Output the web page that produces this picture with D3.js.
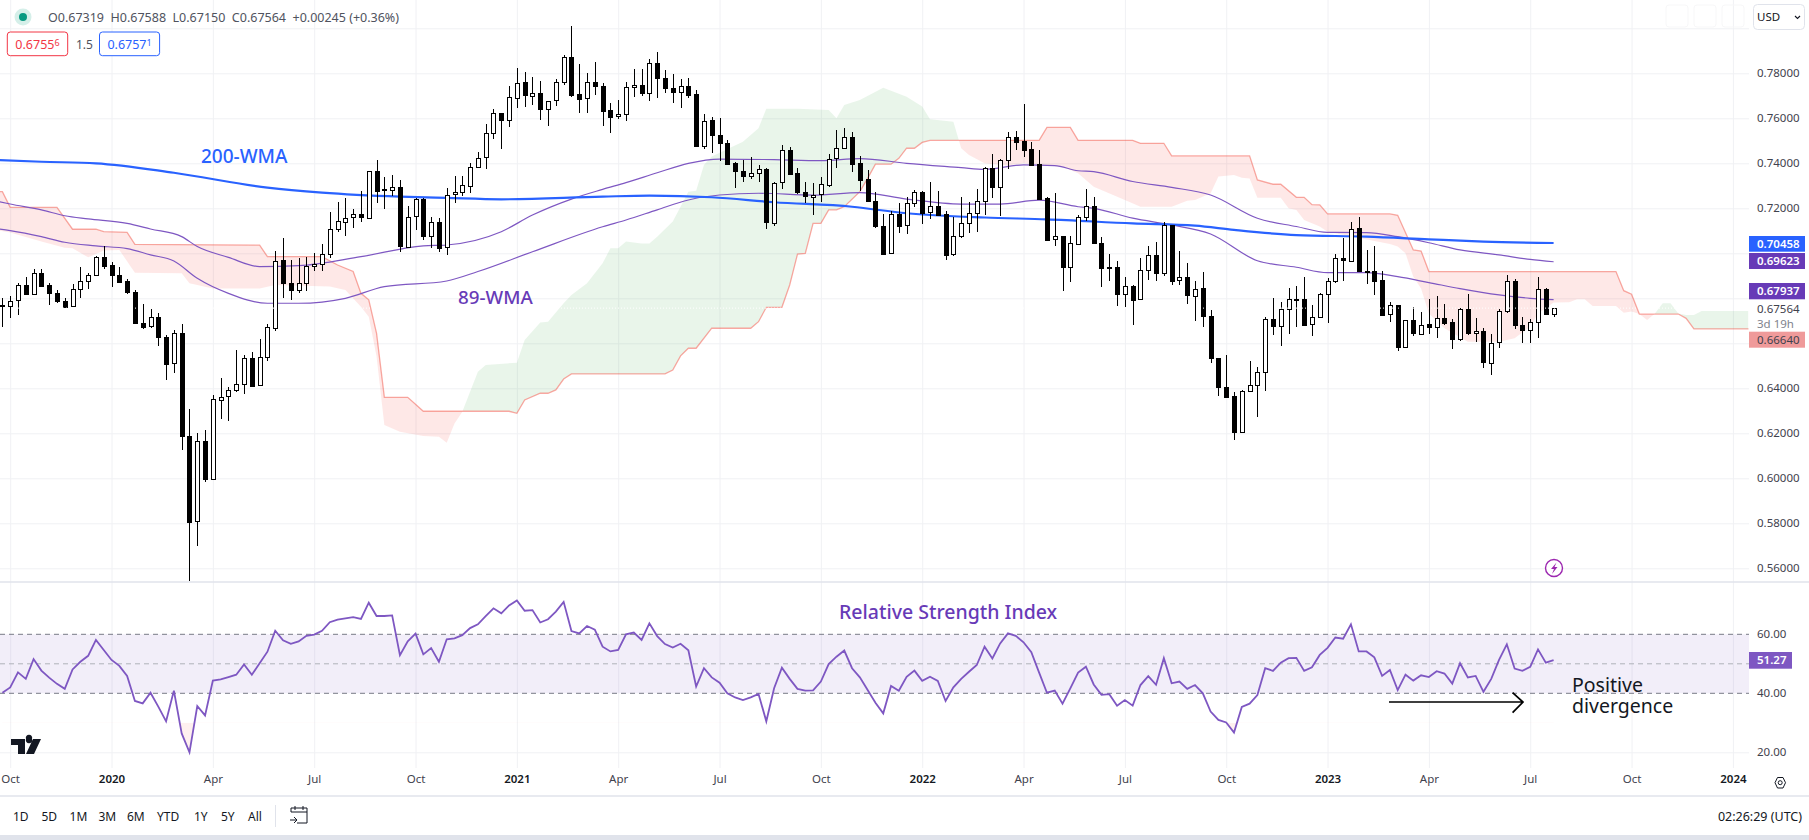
<!DOCTYPE html>
<html>
<head>
<meta charset="utf-8">
<script src="https://cdn.jsdelivr.net/npm/d3@7"></script>
<style>
  html, body { margin: 0; padding: 0; background: #fff; overflow: hidden; }
  text { font-family: "Noto Sans", sans-serif; }
</style>
</head>
<body>
<div id="my_dataviz"></div>
<script>
// weekly candles, one row = 10 weeks, starting the week of 30 Sep 2019
var opens = [
  .6767,.6769,.6793,.6859,.6820,.6914,.6858,.6823,.6789,.6763,
  .6840,.6875,.6903,.6983,.6947,.6903,.6876,.6826,.6690,.6674,
  .6716,.6628,.6509,.6644,.6188,.5807,.6164,.5996,.6351,.6363,
  .6391,.6417,.6533,.6413,.6537,.6671,.6969,.6867,.6834,.6867,
  .6941,.6951,.6996,.7107,.7142,.7158,.7173,.7157,.7365,.7284,
  .7281,.7293,.7030,.7163,.7241,.7077,.7138,.7027,.7260,.7271,
  .7302,.7385,.7425,.7533,.7622,.7589,.7693,.7760,.7701,.7714,
  .7643,.7678,.7760,.7871,.7707,.7687,.7760,.7744,.7636,.7607,
  .7616,.7738,.7747,.7711,.7844,.7778,.7733,.7714,.7742,.7707,
  .7478,.7591,.7524,.7489,.7400,.7364,.7342,.7356,.7373,.7136,
  .7314,.7458,.7356,.7271,.7252,.7261,.7307,.7421,.7467,.7517,
  .7400,.7329,.7232,.7122,.6999,.7175,.7123,.7222,.7273,.7181,
  .7210,.7173,.6993,.7074,.7133,.7178,.7230,.7378,.7292,.7413,
  .7517,.7499,.7462,.7396,.7244,.7062,.7075,.6936,.7041,.7158,
  .7209,.7044,.6938,.6938,.6817,.6855,.6794,.6925,.6991,.6910,
  .7126,.6878,.6893,.6812,.6844,.6720,.6533,.6404,.6364,.6203,
  .6387,.6413,.6470,.6707,.6674,.6751,.6797,.6796,.6683,.6716,
  .6818,.6875,.6978,.6968,.7111,.6921,.6921,.6881,.6727,.6769,
  .6581,.6702,.6643,.6684,.6670,.6711,.6693,.6616,.6751,.6643,
  .6653,.6514,.6603,.6741,.6876,.6680,.6656,.6693,.6840,.67319];
var highs = [
  .6800,.6810,.6867,.6896,.6929,.6929,.6867,.6837,.6800,.6864,
  .6938,.6911,.6988,.7033,.6962,.6941,.6887,.6837,.6775,.6753,
  .6734,.6637,.6659,.6685,.6308,.6200,.6215,.6370,.6444,.6404,
  .6570,.6548,.6563,.6618,.6685,.7012,.7067,.6970,.6977,.6985,
  .7000,.7040,.7183,.7230,.7244,.7195,.7277,.7367,.7415,.7341,
  .7348,.7326,.7210,.7244,.7244,.7160,.7156,.7289,.7343,.7343,
  .7400,.7449,.7575,.7640,.7625,.7744,.7822,.7804,.7782,.7766,
  .7678,.7773,.7881,.8010,.7840,.7800,.7849,.7756,.7667,.7681,
  .7760,.7818,.7818,.7862,.7893,.7815,.7797,.7773,.7778,.7726,
  .7619,.7604,.7601,.7504,.7404,.7415,.7427,.7393,.7378,.7317,
  .7481,.7474,.7378,.7316,.7311,.7338,.7441,.7548,.7556,.7539,
  .7433,.7370,.7274,.7175,.7190,.7222,.7252,.7281,.7277,.7316,
  .7277,.7188,.7163,.7252,.7228,.7286,.7382,.7441,.7418,.7539,
  .7544,.7664,.7493,.7459,.7249,.7267,.7075,.7075,.7169,.7284,
  .7249,.7071,.6997,.6966,.6895,.6859,.6977,.7033,.7051,.7139,
  .7126,.7009,.6956,.6877,.6918,.6748,.6536,.6548,.6382,.6393,
  .6522,.6493,.6718,.6801,.6785,.6844,.6855,.6893,.6770,.6822,
  .6889,.6997,.7067,.7141,.7160,.7015,.7033,.6921,.6785,.6772,
  .6704,.6760,.6741,.6797,.6810,.6775,.6707,.6755,.6818,.6711,
  .6666,.6640,.6753,.6903,.6885,.6718,.6708,.6893,.6847,.67588];
var lows = [
  .6674,.6714,.6726,.6815,.6817,.6849,.6770,.6778,.6759,.6763,
  .6800,.6843,.6897,.6932,.6852,.6870,.6820,.6685,.6663,.6669,
  .6589,.6437,.6467,.6126,.5545,.5701,.5985,.5996,.6264,.6256,
  .6385,.6375,.6407,.6413,.6522,.6656,.6803,.6793,.6823,.6834,
  .6923,.6923,.6977,.7093,.7077,.7114,.7141,.7151,.7225,.7195,
  .7255,.7007,.7027,.7104,.7059,.7025,.7007,.6992,.7225,.7255,
  .7270,.7378,.7375,.7508,.7464,.7563,.7647,.7652,.7659,.7593,
  .7566,.7655,.7748,.7696,.7625,.7625,.7704,.7566,.7536,.7596,
  .7589,.7696,.7699,.7678,.7692,.7714,.7670,.7647,.7689,.7477,
  .7465,.7447,.7412,.7393,.7292,.7318,.7332,.7318,.7110,.7123,
  .7287,.7348,.7264,.7225,.7172,.7228,.7296,.7381,.7465,.7363,
  .7278,.7228,.7114,.6999,.6999,.7092,.7086,.7207,.7130,.7154,
  .7166,.6970,.6990,.7068,.7092,.7096,.7170,.7246,.7166,.7376,
  .7459,.7430,.7391,.7237,.7055,.7033,.6834,.6873,.7037,.7144,
  .7041,.6852,.6875,.6767,.6763,.6683,.6793,.6882,.6875,.6899,
  .6859,.6859,.6775,.6701,.6674,.6514,.6366,.6358,.6170,.6203,
  .6385,.6274,.6390,.6637,.6589,.6641,.6674,.6677,.6632,.6713,
  .6692,.6867,.6875,.6968,.6915,.6862,.6815,.6724,.6696,.6567,
  .6581,.6634,.6637,.6641,.6622,.6681,.6574,.6611,.6638,.6607,
  .6492,.6461,.6581,.6736,.6665,.6600,.6603,.6625,.6728,.67150];
var closes = [
  .6771,.6790,.6858,.6820,.6914,.6855,.6823,.6786,.6763,.6840,
  .6875,.6903,.6983,.6945,.6901,.6873,.6826,.6688,.6674,.6716,
  .6625,.6509,.6644,.6185,.5807,.6164,.5993,.6351,.6363,.6391,
  .6417,.6533,.6410,.6537,.6671,.6968,.6865,.6834,.6867,.6944,
  .6951,.6996,.7107,.7142,.7158,.7173,.7160,.7364,.7278,.7278,
  .7293,.7030,.7163,.7240,.7077,.7138,.7022,.7260,.7271,.7302,
  .7385,.7425,.7533,.7622,.7589,.7693,.7759,.7701,.7714,.7643,
  .7678,.7760,.7871,.7704,.7687,.7760,.7741,.7634,.7607,.7618,
  .7738,.7747,.7710,.7844,.7776,.7732,.7714,.7742,.7704,.7478,
  .7589,.7523,.7487,.7397,.7363,.7341,.7356,.7373,.7136,.7314,
  .7458,.7353,.7270,.7252,.7261,.7307,.7421,.7467,.7516,.7398,
  .7326,.7230,.7119,.6999,.7173,.7122,.7222,.7271,.7178,.7209,
  .7170,.6993,.7075,.7133,.7178,.7231,.7378,.7292,.7413,.7516,
  .7496,.7461,.7393,.7241,.7059,.7075,.6936,.7044,.7160,.7209,
  .7043,.6932,.6932,.6817,.6853,.6794,.6925,.6991,.6910,.7124,
  .6878,.6893,.6812,.6843,.6718,.6532,.6403,.6361,.6203,.6387,
  .6413,.6471,.6707,.6674,.6751,.6796,.6794,.6682,.6716,.6818,
  .6876,.6978,.6968,.7110,.6918,.6918,.6878,.6727,.6769,.6581,
  .6702,.6643,.6683,.6670,.6711,.6690,.6616,.6751,.6643,.6653,
  .6514,.6603,.6742,.6875,.6679,.6656,.6693,.6840,.6731,.67564];

// RSI, one value per week
var rsiValues = [
  40.2,42.0,47.1,44.9,51.6,47.7,45.3,43.2,41.5,48.1,
  50.7,52.7,58.1,54.7,51.3,49.3,45.9,37.4,36.6,40.2,
  35.5,30.5,40.9,26.4,20.0,35.7,32.5,44.3,44.7,45.5,
  46.3,49.8,46.3,50.2,54.1,61.2,58.0,56.8,57.6,59.5,
  59.9,61.2,64.1,65.0,65.4,65.8,65.2,70.7,66.2,66.2,
  66.4,52.9,57.6,60.2,53.2,55.3,50.7,58.3,58.6,59.7,
  62.1,63.4,66.2,68.8,67.1,69.8,71.5,68.0,68.2,64.0,
  65.1,67.7,71.0,61.1,60.3,62.8,61.6,55.8,54.2,54.7,
  60.0,60.6,58.1,63.7,59.4,56.7,55.5,56.8,54.6,42.3,
  48.5,45.4,43.6,40.0,38.6,37.7,38.6,39.8,30.5,41.7,
  48.7,44.9,41.5,40.9,41.0,44.0,49.9,52.4,54.5,48.5,
  45.4,41.1,36.8,33.2,42.5,40.9,45.6,47.7,44.2,45.6,
  44.2,37.4,42.0,44.9,47.3,49.6,55.8,51.8,56.9,60.3,
  59.5,57.3,53.9,47.0,40.2,40.9,36.5,41.7,47.0,49.0,
  43.0,39.5,39.7,35.8,37.7,35.8,42.8,45.8,42.9,51.9,
  43.4,44.0,41.5,42.8,40.0,33.8,31.0,30.1,26.7,35.4,
  36.5,39.4,48.5,47.6,50.4,51.9,52.0,47.6,48.8,53.0,
  55.4,58.9,58.5,63.4,54.2,54.2,52.2,45.9,47.9,41.1,
  46.3,44.3,46.1,45.5,47.5,46.7,43.3,50.2,45.4,45.9,
  40.5,44.9,51.3,56.6,48.4,47.6,49.0,54.9,50.4,51.27];

// moving averages, week index and value
var wma200Weeks = [-1,5,12,22,34,41,51,57,64,77,83,91,99,109,116,126,134,145,153,158,166,175,183,190,199];
var wma200 = [.7415,.7407,.7400,.7358,.7292,.7270,.7252,.7246,.7240,.7252,.7256,.7249,.7227,.7207,.7178,.7159,.7151,.7133,.7123,.7104,.7081,.7074,.7062,.7052,.70458];

var upperWmaWeeks = [-1,1,5,8,11,16,19,23,25,29,33,38,46,54,57,64,68,73,77,80,84,88,92,99,105,110,116,123,126,131,135,138,140,145,150,155,161,166,170,175,179,183,187,192,196,199];
var upperWma = [.7234,.7219,.7193,.7167,.7153,.7133,.7108,.7074,.7030,.6982,.6941,.6945,.6985,.7033,.7037,.7096,.7170,.7241,.7284,.7314,.7358,.7400,.7419,.7416,.7412,.7421,.7400,.7381,.7373,.7393,.7390,.7367,.7363,.7319,.7293,.7259,.7156,.7119,.7093,.7092,.7074,.7047,.7015,.6993,.6973,.69623];

var lowerWmaWeeks = [-1,1,5,8,12,16,19,22,25,29,34,38,44,49,57,61,68,77,80,84,88,92,97,104,110,116,123,128,133,138,140,145,150,155,161,166,170,175,179,183,187,192,196,199];
var lowerWma = [.7111,.7101,.7074,.7049,.7033,.7021,.6993,.6966,.6889,.6822,.6778,.6778,.6800,.6852,.6877,.6919,.7007,.7118,.7148,.7193,.7237,.7259,.7267,.7259,.7270,.7241,.7219,.7219,.7236,.7207,.7200,.7156,.7126,.7086,.6967,.6938,.6914,.6914,.6896,.6870,.6843,.6815,.6800,.67937];

// ichimoku cloud edges
var spanBWeeks = [-1,0,1,7,9,12,13,16,17,33,34,41,43,45,46,47,48,49,52,54,65,66,67,69,70,71,72,73,85,86,87,88,89,91,96,97,98,100,101,102,103,104,105,106,107,108,110,111,112,114,115,116,117,118,119,133,134,137,138,145,146,149,150,160,161,163,164,166,167,168,169,170,178,179,181,182,183,207,208,209,210,215,216,217,224];
var spanB = [.7274,.7274,.7204,.7204,.7107,.7107,.7096,.7093,.7040,.7036,.6985,.6985,.6948,.6919,.6822,.6793,.6644,.6360,.6360,.6298,.6298,.6289,.6348,.6378,.6378,.6393,.6441,.6464,.6464,.6481,.6544,.6578,.6578,.6667,.6667,.6696,.6760,.6760,.6859,.6996,.7000,.7133,.7133,.7193,.7193,.7207,.7274,.7333,.7396,.7396,.7422,.7467,.7467,.7493,.7502,.7502,.7560,.7560,.7502,.7502,.7489,.7489,.7433,.7433,.7326,.7307,.7307,.7249,.7249,.7216,.7215,.7175,.7175,.7169,.7015,.7010,.6919,.6919,.6834,.6818,.6730,.6730,.6711,.6664,.6664];

var spanAWeeks = [-1,1,5,8,9,11,13,15,17,23,24,27,33,35,42,44,46,47,48,49,51,54,56,57,58,59,61,62,66,67,69,70,72,73,75,77,78,79,80,82,83,84,86,87,88,89,90,91,95,97,98,102,106,107,108,110,113,116,118,119,122,123,124,126,129,131,133,136,138,140,144,146,150,152,153,155,156,158,159,160,161,164,165,166,167,169,170,178,179,180,181,182,183,185,188,192,194,196,197,199,201,202,203,204,207,208,209,210,211,212,213,214,215,216,217,218,224];
var spanA = [.7104,.7092,.7052,.7025,.7022,.6982,.7012,.7015,.6914,.6911,.6867,.6844,.6844,.6859,.6852,.6837,.6763,.6718,.6541,.6237,.6207,.6188,.6185,.6158,.6244,.6296,.6474,.6504,.6514,.6615,.6693,.6696,.6778,.6815,.6867,.6956,.7022,.7022,.7052,.7044,.7044,.7074,.7141,.7207,.7274,.7278,.7393,.7430,.7496,.7556,.7643,.7643,.7637,.7600,.7659,.7681,.7736,.7696,.7652,.7596,.7585,.7467,.7437,.7400,.7390,.7400,.7393,.7385,.7356,.7296,.7237,.7207,.7207,.7234,.7237,.7267,.7341,.7348,.7336,.7333,.7247,.7247,.7200,.7193,.7148,.7119,.7096,.7041,.7030,.7000,.6896,.6844,.6733,.6667,.6607,.6607,.6622,.6674,.6733,.6781,.6782,.6796,.6796,.6766,.6766,.6736,.6741,.6730,.6704,.6733,.6778,.6778,.6733,.6726,.6726,.6744,.6744];

// axis ticks
var timeTicks = [1,14,27,40,53,66,79,92,105,118,131,144,157,170,183,196,209,222];
var timeLabels = ["Oct","2020","Apr","Jul","Oct","2021","Apr","Jul","Oct","2022","Apr","Jul","Oct","2023","Apr","Jul","Oct","2024"];
var priceGrid = [.80,.78,.76,.74,.72,.70,.68,.66,.64,.62,.60,.58,.56];
// .70, .68 and .66 sit behind the price tags in the picture
var priceLabels = [.78,.76,.74,.72,.64,.62,.60,.58,.56];
var rsiTicks = [60,40,20];
var rangeButtons = ["1D","5D","1M","3M","6M","YTD","1Y","5Y","All"];

var width = 1809, height = 840, plotRight = 1749, priceBottom = 582, rsiBottom = 768;

var svg = d3.select("#my_dataviz")
  .append("svg")
    .attr("width", width)
    .attr("height", height)
    .style("display", "block");

var x = d3.scaleLinear().domain([0, 199]).range([2.4, 1553.6]);
var y = d3.scaleLinear().domain([0.56, 0.78]).range([568.3, 73.3]);
var yRsi = d3.scaleLinear().domain([20, 60]).range([752.3, 634.3]);

var clipPrice = svg.append("clipPath").attr("id", "clip-price");
clipPrice.append("rect").attr("width", plotRight).attr("height", priceBottom);
var clipRsi = svg.append("clipPath").attr("id", "clip-rsi");
clipRsi.append("rect").attr("y", priceBottom).attr("width", plotRight).attr("height", rsiBottom - priceBottom);
var clipOversold = svg.append("clipPath").attr("id", "clip-oversold");
clipOversold.append("rect").attr("y", yRsi(30)).attr("width", plotRight).attr("height", rsiBottom - yRsi(30));

// grid lines come from the axes, labels are added below
var gridColor = "#f0f1f4";
var xGrid = svg.append("g")
  .attr("transform", "translate(0," + rsiBottom + ")")
  .call(d3.axisBottom(x).tickValues(timeTicks).tickSize(-rsiBottom).tickFormat(""));
var yGrid = svg.append("g")
  .call(d3.axisRight(y).tickValues(priceGrid).tickSize(plotRight).tickFormat(""));
var rsiGrid = svg.append("g")
  .call(d3.axisRight(yRsi).tickValues([20]).tickSize(plotRight).tickFormat(""));
[xGrid, yGrid, rsiGrid].forEach(function(g) {
  g.select(".domain").remove();
  g.selectAll("line").attr("stroke", gridColor);
});

// ---- cloud ----
var ptsA = spanAWeeks.map(function(w, i) { return [x(w), y(spanA[i])]; });
var ptsB = spanBWeeks.map(function(w, i) { return [x(w), y(spanB[i])]; });

var cloudClipA = svg.append("clipPath").attr("id", "above-b");
cloudClipA.append("path").attr("d", d3.area().x(function(d) { return d[0]; }).y0(0).y1(function(d) { return d[1]; })(ptsB));
var cloudClipB = svg.append("clipPath").attr("id", "below-b");
cloudClipB.append("path").attr("d", d3.area().x(function(d) { return d[0]; }).y0(priceBottom).y1(function(d) { return d[1]; })(ptsB));

var band = d3.line()(ptsA.concat(ptsB.slice().reverse()));
var price = svg.append("g").attr("clip-path", "url(#clip-price)");
price.append("g").attr("clip-path", "url(#above-b)")
  .append("path").attr("d", band).attr("fill", "rgba(76,175,80,0.12)");
price.append("g").attr("clip-path", "url(#below-b)")
  .append("path").attr("d", band).attr("fill", "rgba(244,67,54,0.12)");
price.append("path")
  .attr("d", d3.line()(ptsB))
  .attr("fill", "none")
  .attr("stroke", "rgba(244,67,54,0.45)")
  .attr("stroke-width", 1.3);

// ---- moving averages ----
function maLine(weeks, values) {
  return d3.line()
    .x(function(d) { return x(d); })
    .y(function(d, i) { return y(values[i]); })
    .curve(d3.curveMonotoneX)(weeks);
}
price.append("path").attr("d", maLine(upperWmaWeeks, upperWma))
  .attr("fill", "none").attr("stroke", "#7e57c2").attr("stroke-width", 1.2);
price.append("path").attr("d", maLine(lowerWmaWeeks, lowerWma))
  .attr("fill", "none").attr("stroke", "#7e57c2").attr("stroke-width", 1.2);
price.append("path").attr("d", maLine(wma200Weeks, wma200))
  .attr("fill", "none").attr("stroke", "#2962ff").attr("stroke-width", 2.2);

// ---- candles ----
var candles = price.append("g").selectAll("g")
  .data(d3.range(opens.length))
  .enter().append("g");
candles.append("line")
  .attr("x1", function(i) { return Math.round(x(i)) + 0.5; })
  .attr("x2", function(i) { return Math.round(x(i)) + 0.5; })
  .attr("y1", function(i) { return y(highs[i]); })
  .attr("y2", function(i) { return y(lows[i]); })
  .attr("stroke", "#000")
  .attr("stroke-width", 1)
  .attr("shape-rendering", "crispEdges");
candles.append("rect")
  .attr("x", function(i) { return Math.round(x(i)) - 1.5; })
  .attr("width", 4)
  .attr("y", function(i) { return Math.round(y(Math.max(opens[i], closes[i]))) + 0.5; })
  .attr("height", function(i) { return Math.max(1, Math.round(Math.abs(y(opens[i]) - y(closes[i])))); })
  .attr("fill", function(i) { return closes[i] >= opens[i] ? "#fff" : "#000"; })
  .attr("stroke", "#000")
  .attr("stroke-width", 1)
  .attr("shape-rendering", "crispEdges");

// white dotted last price line
price.append("line")
  .attr("x1", 0).attr("x2", plotRight)
  .attr("y1", y(closes[closes.length - 1])).attr("y2", y(closes[closes.length - 1]))
  .attr("stroke", "#fff").attr("stroke-width", 1).attr("stroke-dasharray", "1,2");

// ---- RSI pane ----
svg.append("rect")
  .attr("x", 0).attr("width", plotRight)
  .attr("y", yRsi(60)).attr("height", yRsi(40) - yRsi(60))
  .attr("fill", "rgba(126,87,194,0.1)");
[[60, "#787b86"], [50, "#b0b2ba"], [40, "#787b86"]].forEach(function(l) {
  svg.append("line")
    .attr("x1", 0).attr("x2", plotRight)
    .attr("y1", yRsi(l[0])).attr("y2", yRsi(l[0]))
    .attr("stroke", l[1]).attr("stroke-width", 1).attr("stroke-dasharray", "5,4");
});
// faint wash where the RSI drops under 30
svg.append("g").attr("clip-path", "url(#clip-oversold)")
  .append("path")
  .attr("d", d3.area().x(function(d, i) { return x(i); }).y0(yRsi(30)).y1(function(d) { return yRsi(d); })(rsiValues))
  .attr("fill", "rgba(244,67,54,0.08)");
svg.append("g").attr("clip-path", "url(#clip-rsi)")
  .append("path")
  .attr("d", d3.line().x(function(d, i) { return x(i); }).y(function(d) { return yRsi(d); })(rsiValues))
  .attr("fill", "none")
  .attr("stroke", "#7e57c2")
  .attr("stroke-width", 1.8);

// pane separators and bottom bar
svg.append("line").attr("x1", 0).attr("x2", width).attr("y1", priceBottom).attr("y2", priceBottom)
  .attr("stroke", "#e0e3eb").attr("stroke-width", 1.4);
svg.append("line").attr("x1", 0).attr("x2", width).attr("y1", 796).attr("y2", 796)
  .attr("stroke", "#e0e3eb").attr("stroke-width", 1.4);
svg.append("rect").attr("x", 0).attr("y", 835).attr("width", width).attr("height", 5).attr("fill", "#e0e3eb");

// ---- axes ----
var axisColor = "#3f424d";
var priceAxis = svg.append("g")
  .attr("transform", "translate(" + 1757 + ",0)")
  .call(d3.axisRight(y).tickValues(priceLabels).tickSize(0).tickPadding(0).tickFormat(d3.format(".5f")));
var rsiAxis = svg.append("g")
  .attr("transform", "translate(" + 1757 + ",0)")
  .call(d3.axisRight(yRsi).tickValues(rsiTicks).tickSize(0).tickPadding(0).tickFormat(d3.format(".2f")));
[priceAxis, rsiAxis].forEach(function(g) {
  g.select(".domain").remove();
  g.selectAll("text")
    .style("font-family", '"Noto Sans", sans-serif')
    .style("font-size", "11.5px")
    .attr("fill", axisColor);
});

var timeAxis = svg.append("g")
  .attr("transform", "translate(0,768)")
  .call(d3.axisBottom(x).tickValues(timeTicks).tickSize(0).tickPadding(7)
    .tickFormat(function(d, i) { return timeLabels[i]; }));
timeAxis.select(".domain").remove();
timeAxis.selectAll("text")
  .style("font-family", '"Noto Sans", sans-serif')
  .style("font-size", "11.5px")
  .style("font-weight", function(d, i) { return timeLabels[i].length == 4 ? 600 : 400; })
  .attr("fill", function(d, i) { return timeLabels[i].length == 4 ? "#131722" : axisColor; });

// ---- price tags on the right ----
function tag(label, top, bottom, fill, color, right) {
  svg.append("rect").attr("x", plotRight).attr("y", top).attr("width", right - plotRight).attr("height", bottom - top).attr("fill", fill);
  svg.append("text").attr("x", 1757).attr("y", (top + bottom) / 2).attr("dy", "0.36em")
    .attr("font-size", 11.5).attr("font-weight", color == "#fff" ? 600 : 400).attr("fill", color).text(label);
}
tag("0.70458", 236, 251.7, "#2962ff", "#fff", 1805);
tag("0.69623", 253, 269, "#673ab7", "#fff", 1805);
tag("0.67937", 283, 299.3, "#673ab7", "#fff", 1805);
tag("0.67564", 301, 316, "#fff", "#3f424d", 1805);
tag("3d 19h", 316, 331, "#fff", "#80838d", 1805);
tag("0.66640", 331.7, 347.7, "#ef9a9a", "#3f424d", 1805);
tag("51.27", 652, 668.7, "#7e57c2", "#fff", 1792);

// ---- notes drawn on the chart ----
function note(label, xPos, yPos, size, color, weight) {
  svg.append("text").attr("x", xPos).attr("y", yPos).attr("dy", "0.36em")
    .attr("font-size", size).attr("font-weight", weight || 500).attr("fill", color).text(label);
}
note("200-WMA", 201, 156, 19, "#2962ff");
note("89-WMA", 458, 297, 18.8, "#673ab7");
note("Relative Strength Index", 839, 612, 19.5, "#673ab7");
note("Positive", 1572, 685, 19.5, "#131722", 400);
note("divergence", 1572, 706, 19.5, "#131722", 400);
svg.append("path")
  .attr("d", "M1389,702H1523M1512.6,692.7L1523,702L1512.6,712.7")
  .attr("fill", "none").attr("stroke", "#000").attr("stroke-width", 1.7);

// lightning badge
svg.append("circle").attr("cx", 1554).attr("cy", 568).attr("r", 8.5).attr("fill", "#fff").attr("stroke", "#9c27b0").attr("stroke-width", 1.4);
svg.append("path").attr("d", "M1556.5,562.5L1551,569H1554L1552,574L1557.5,567H1554.5Z").attr("fill", "#9c27b0");

// tradingview logo
svg.append("path").attr("d", "M11,739H25V754H18V745H11Z M26,739A3.2,3.2 0 1 1 32,739A3.2,3.2 0 1 1 26,739Z M33,739H41L34,754H26Z").attr("fill", "#131722");

// ---- top legend ----
svg.append("circle").attr("cx", 23).attr("cy", 17).attr("r", 8.5).attr("fill", "#d5efe9");
svg.append("circle").attr("cx", 23).attr("cy", 17).attr("r", 4).attr("fill", "#089981");
svg.append("text").attr("x", 48).attr("y", 17).attr("dy", "0.36em").attr("font-size", 12.5).attr("fill", "#50535e")
  .attr("xml:space", "preserve")
  .text("O0.67319  H0.67588  L0.67150  C0.67564  +0.00245 (+0.36%)");

function quoteBox(x0, x1, color, big, small) {
  svg.append("rect").attr("x", x0).attr("y", 32).attr("width", x1 - x0).attr("height", 23.7).attr("rx", 3)
    .attr("fill", "#fff").attr("stroke", color).attr("stroke-width", 1);
  var t = svg.append("text").attr("x", (x0 + x1) / 2).attr("y", 44.5).attr("dy", "0.36em").attr("text-anchor", "middle")
    .attr("font-size", 12.5).attr("fill", color);
  t.append("tspan").text(big);
  t.append("tspan").attr("font-size", 9).attr("dy", "-3").text(small);
}
quoteBox(7.3, 67.7, "#f23645", "0.6755", "6");
quoteBox(99.5, 159.6, "#2962ff", "0.6757", "1");
note("1.5", 76, 44.5, 12, "#50535e", 400);

// ---- USD button and faded corner buttons ----
[1666, 1694, 1722].forEach(function(bx) {
  svg.append("rect").attr("x", bx).attr("y", 5).attr("width", 22).attr("height", 22).attr("rx", 3)
    .attr("fill", "none").attr("stroke", "#f7f7f8");
});
svg.append("rect").attr("x", 1753.5).attr("y", 4.5).attr("width", 51).attr("height", 25).attr("rx", 4)
  .attr("fill", "#fff").attr("stroke", "#e0e3eb");
note("USD", 1757, 17, 11.5, "#131722", 400);
svg.append("path").attr("d", "M1795,16L1797.5,18.5L1800,16").attr("fill", "none").attr("stroke", "#131722").attr("stroke-width", 1.1);

// ---- bottom toolbar ----
var buttonX = [13, 41.5, 69.6, 98.5, 127, 157, 194, 221, 248];
svg.selectAll(".range")
  .data(rangeButtons)
  .enter().append("text")
  .attr("x", function(d, i) { return buttonX[i]; })
  .attr("y", 816.7).attr("dy", "0.36em")
  .attr("font-size", 12).attr("fill", "#131722")
  .text(function(d) { return d; });
svg.append("line").attr("x1", 275.5).attr("x2", 275.5).attr("y1", 805).attr("y2", 827).attr("stroke", "#e0e3eb");
svg.append("path")
  .attr("d", "M291,812V808H307V823H297M291,812H307M295,806V810M303,806V810M290,820H297M294,817L297,820L294,823")
  .attr("fill", "none").attr("stroke", "#131722").attr("stroke-width", 1);
svg.append("text").attr("x", 1802).attr("y", 816.7).attr("dy", "0.36em").attr("text-anchor", "end")
  .attr("font-size", 12.5).attr("fill", "#131722").text("02:26:29 (UTC)");

// axis settings hexagon
svg.append("path").attr("d", "M1775,782.7L1777.5,777.5H1783L1785.5,782.7L1783,788H1777.5Z")
  .attr("fill", "none").attr("stroke", "#131722").attr("stroke-width", 1);
svg.append("circle").attr("cx", 1780.2).attr("cy", 782.7).attr("r", 2).attr("fill", "none").attr("stroke", "#131722");
</script>
</body>
</html>
